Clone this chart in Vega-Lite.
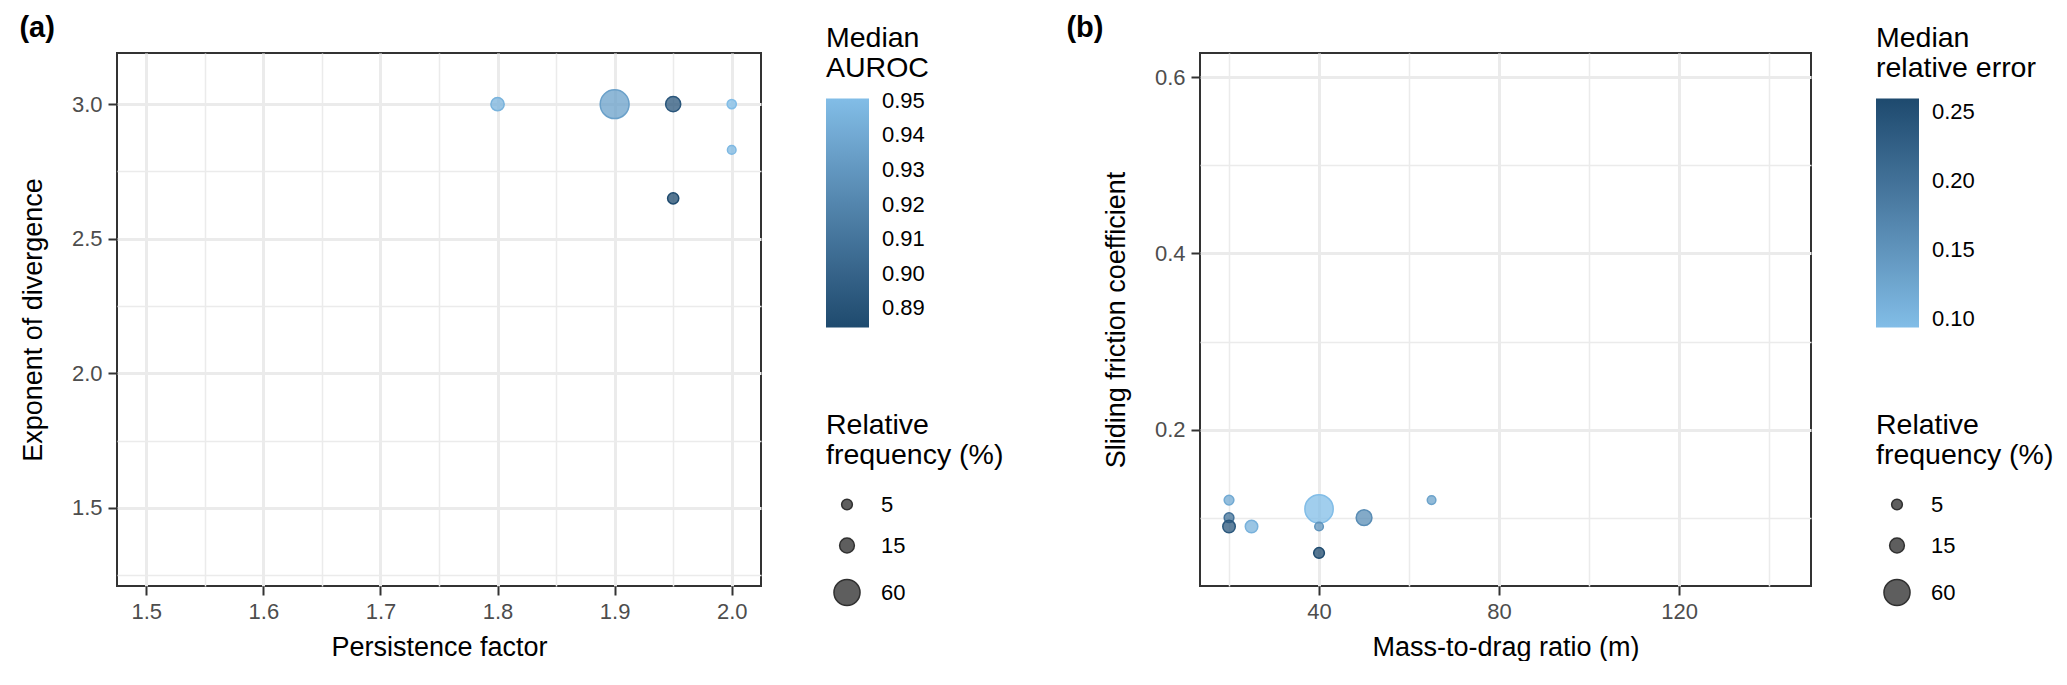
{
  "$schema": "https://vega.github.io/schema/vega-lite/v6.json",
  "background": "white",
  "padding": {"left": 18, "top": 13, "right": 0, "bottom": 0},
  "spacing": 60,
  "config": {
    "font": "Liberation Sans",
    "view": {"stroke": "#333333", "strokeWidth": 2},
    "axis": {
      "domain": false,
      "gridColor": "#EBEBEB",
      "tickColor": "#333333",
      "tickWidth": 2,
      "tickSize": 9,
      "labelFontSize": 22,
      "labelColor": "#4D4D4D",
      "labelPadding": 6,
      "labelFlush": false,
      "labelOverlap": false,
      "titleFontSize": 27,
      "titleFontWeight": "normal",
      "titleColor": "#000000",
      "titlePadding": 12
    },
    "axisY": {"titlePadding": 24},
    "legend": {
      "titleFontSize": 28.5,
      "titleFontWeight": "normal",
      "titleColor": "#000000",
      "titleLineHeight": 30,
      "labelFontSize": 22,
      "labelColor": "#000000"
    }
  },
  "hconcat": [
    {
      "title": {"text": "(a)", "anchor": "start", "frame": "bounds", "fontSize": 29, "fontWeight": "bold", "color": "#000000", "offset": -19, "dx": 0},
      "width": 644,
      "height": 533,
      "data": {"values": [
        {"pf": 1.9, "ed": 3.0, "auroc": 0.935, "freq": 75},
        {"pf": 1.8, "ed": 3.0, "auroc": 0.945, "freq": 11},
        {"pf": 1.95, "ed": 3.0, "auroc": 0.892, "freq": 16},
        {"pf": 2.0, "ed": 3.0, "auroc": 0.9506, "freq": 2},
        {"pf": 2.0, "ed": 2.83, "auroc": 0.948, "freq": 1},
        {"pf": 1.95, "ed": 2.65, "auroc": 0.8845, "freq": 6}
      ]},
      "mark": {"type": "point", "filled": true, "fillOpacity": 0.75, "strokeWidth": 1.5, "strokeOpacity": 1},
      "encoding": {
        "x": {"field": "pf", "type": "quantitative", "title": "Persistence factor",
          "scale": {"domain": [1.475, 2.025], "nice": false, "zero": false},
          "axis": {
            "values": [1.5, 1.55, 1.6, 1.65, 1.7, 1.75, 1.8, 1.85, 1.9, 1.95, 2.0],
            "labelExpr": "abs(datum.value*10 - round(datum.value*10)) < 0.001 ? format(datum.value, '.1f') : ''",
            "gridWidth": {"condition": {"test": "abs(datum.value*10 - round(datum.value*10)) < 0.001", "value": 3}, "value": 1.5},
            "tickOpacity": {"condition": {"test": "abs(datum.value*10 - round(datum.value*10)) < 0.001", "value": 1}, "value": 0}
          }},
        "y": {"field": "ed", "type": "quantitative", "title": "Exponent of divergence",
          "scale": {"domain": [1.21, 3.19], "nice": false, "zero": false},
          "axis": {
            "values": [1.25, 1.5, 1.75, 2.0, 2.25, 2.5, 2.75, 3.0],
            "labelExpr": "abs(datum.value*2 - round(datum.value*2)) < 0.001 ? format(datum.value, '.1f') : ''",
            "gridWidth": {"condition": {"test": "abs(datum.value*2 - round(datum.value*2)) < 0.001", "value": 3}, "value": 1.5},
            "tickOpacity": {"condition": {"test": "abs(datum.value*2 - round(datum.value*2)) < 0.001", "value": 1}, "value": 0}
          }},
        "fill": {"field": "auroc", "type": "quantitative",
          "scale": {"domain": [0.8845, 0.9506], "range": ["#1E4A6E", "#82BDE7"], "interpolate": "lab", "nice": false, "zero": false},
          "legend": {"type": "gradient", "orient": "none", "direction": "vertical", "legendX": 709, "legendY": -29, "title": ["Median", "AUROC"],
            "titlePadding": 16, "gradientLength": 229, "gradientThickness": 43, "gradientStrokeWidth": 0,
            "values": [0.89, 0.9, 0.91, 0.92, 0.93, 0.94, 0.95], "format": ".2f", "labelOffset": 13}},
        "stroke": {"field": "auroc", "type": "quantitative",
          "scale": {"domain": [0.88450001, 0.95060001], "range": ["#1E4A6E", "#82BDE7"], "interpolate": "lab", "nice": false, "zero": false},
          "legend": null},
        "size": {"field": "freq", "type": "quantitative",
          "scale": {"type": "linear", "domain": [5, 60], "range": [115, 680], "zero": false, "nice": false},
          "legend": {"orient": "none", "direction": "vertical", "legendX": 709, "legendY": 358, "title": ["Relative", "frequency (%)"],
            "titlePadding": 24, "values": [5, 15, 60], "symbolType": "circle", "symbolFillColor": "#4D4D4D", "symbolStrokeColor": "#1A1A1A",
            "symbolStrokeWidth": 1.5, "symbolOpacity": 0.9, "symbolOffset": 7, "labelOffset": 20, "rowPadding": 19}}
      }
    },
    {
      "title": {"text": "(b)", "anchor": "start", "frame": "bounds", "fontSize": 29, "fontWeight": "bold", "color": "#000000", "offset": -19, "dx": -36},
      "width": 611,
      "height": 533,
      "data": {"values": [
        {"mdr": 40, "sfc": 0.11, "err": 0.094, "freq": 72},
        {"mdr": 40, "sfc": 0.09, "err": 0.15, "freq": 1},
        {"mdr": 40, "sfc": 0.06, "err": 0.26, "freq": 5},
        {"mdr": 50, "sfc": 0.10, "err": 0.16, "freq": 18},
        {"mdr": 65, "sfc": 0.12, "err": 0.13, "freq": 1},
        {"mdr": 20, "sfc": 0.12, "err": 0.12, "freq": 3},
        {"mdr": 20, "sfc": 0.10, "err": 0.20, "freq": 3},
        {"mdr": 20, "sfc": 0.09, "err": 0.24, "freq": 9},
        {"mdr": 25, "sfc": 0.09, "err": 0.11, "freq": 9}
      ]},
      "mark": {"type": "point", "filled": true, "fillOpacity": 0.75, "strokeWidth": 1.5, "strokeOpacity": 1},
      "encoding": {
        "x": {"field": "mdr", "type": "quantitative", "title": "Mass-to-drag ratio (m)",
          "scale": {"domain": [13.55, 149.3], "nice": false, "zero": false},
          "axis": {
            "values": [20, 40, 60, 80, 100, 120, 140],
            "labelExpr": "datum.value % 40 == 0 ? format(datum.value, 'd') : ''",
            "gridWidth": {"condition": {"test": "datum.value % 40 == 0", "value": 3}, "value": 1.5},
            "tickOpacity": {"condition": {"test": "datum.value % 40 == 0", "value": 1}, "value": 0}
          }},
        "y": {"field": "sfc", "type": "quantitative", "title": "Sliding friction coefficient",
          "scale": {"domain": [0.0225, 0.6275], "nice": false, "zero": false},
          "axis": {
            "values": [0.1, 0.2, 0.3, 0.4, 0.5, 0.6],
            "labelExpr": "abs(datum.value*5 - round(datum.value*5)) < 0.001 ? format(datum.value, '.1f') : ''",
            "gridWidth": {"condition": {"test": "abs(datum.value*5 - round(datum.value*5)) < 0.001", "value": 3}, "value": 1.5},
            "tickOpacity": {"condition": {"test": "abs(datum.value*5 - round(datum.value*5)) < 0.001", "value": 1}, "value": 0}
          }},
        "fill": {"field": "err", "type": "quantitative",
          "scale": {"domain": [0.094, 0.26], "range": ["#82BDE7", "#1E4A6E"], "interpolate": "lab", "nice": false, "zero": false},
          "legend": {"type": "gradient", "orient": "none", "direction": "vertical", "legendX": 676, "legendY": -29, "title": ["Median", "relative error"],
            "titlePadding": 16, "gradientLength": 229, "gradientThickness": 43, "gradientStrokeWidth": 0,
            "values": [0.1, 0.15, 0.2, 0.25], "format": ".2f", "labelOffset": 13}},
        "stroke": {"field": "err", "type": "quantitative",
          "scale": {"domain": [0.09400001, 0.26000001], "range": ["#82BDE7", "#1E4A6E"], "interpolate": "lab", "nice": false, "zero": false},
          "legend": null},
        "size": {"field": "freq", "type": "quantitative",
          "scale": {"type": "linear", "domain": [5, 60], "range": [115, 680], "zero": false, "nice": false},
          "legend": {"orient": "none", "direction": "vertical", "legendX": 676, "legendY": 358, "title": ["Relative", "frequency (%)"],
            "titlePadding": 24, "values": [5, 15, 60], "symbolType": "circle", "symbolFillColor": "#4D4D4D", "symbolStrokeColor": "#1A1A1A",
            "symbolStrokeWidth": 1.5, "symbolOpacity": 0.9, "symbolOffset": 7, "labelOffset": 20, "rowPadding": 19}}
      }
    }
  ],
  "resolve": {"scale": {"fill": "independent", "stroke": "independent", "size": "independent"}}
}
